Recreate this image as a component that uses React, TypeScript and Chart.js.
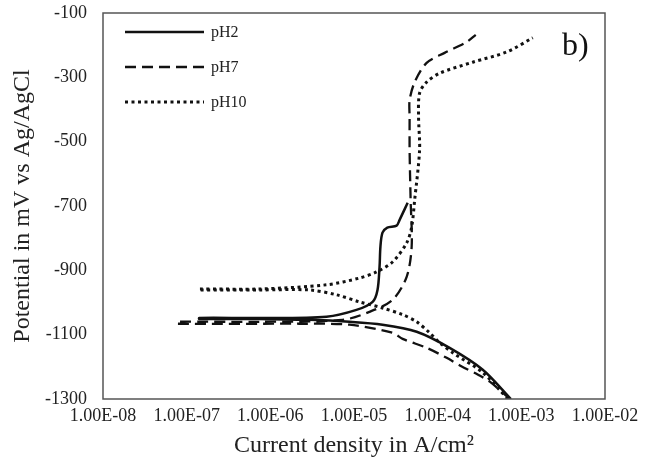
import React, { useEffect, useRef } from "react";
import { Chart, registerables } from "chart.js";

Chart.register(...registerables);

const seriesNames = ["pH2", "pH7", "pH10"];
const xTickValues = [1e-8, 1e-7, 1e-6, 1e-5, 1e-4, 1e-3, 1e-2];
const yMin = -1300;
const yMax = -100;
const yStep = 200;
const panelLabel = "b)";
const xTitle = "Current density in A/cm²";
const yTitle = "Potential in mV vs Ag/AgCl";

// pH2 (solid): cathodic branch (from -1300 up to Ecorr), then anodic branch
const pH2Current = [
  7.5e-4, 3.46e-4, 1.39e-4, 5.61e-5, 2.19e-5, 8.83e-6, 2.93e-6, 7.4e-7, 1.41e-7,
  1.41e-7, 7.4e-7, 4.69e-6, 1.07e-5, 1.67e-5, 1.91e-5, 2.02e-5, 2.07e-5, 2.19e-5,
  2.5e-5, 3.23e-5, 3.51e-5, 4.38e-5,
];
const pH2Potential = [
  -1300, -1209, -1141, -1091, -1069, -1060, -1054, -1051, -1051,
  -1048, -1048, -1044, -1023, -998, -961, -889, -826, -783,
  -767, -761, -743, -690,
];

// pH7 (dashed)
const pH7Current = [
  7.28e-4, 4.2e-4, 3.01e-4, 1.94e-4, 1.28e-4, 7.38e-5, 3.81e-5, 2.89e-5, 8.83e-6,
  2.22e-6, 7.7e-8,
  7.7e-8, 7.4e-7, 7.28e-6, 1.53e-5, 2.89e-5, 4.26e-5, 4.89e-5, 4.75e-5, 4.62e-5,
  4.62e-5, 4.62e-5, 5.31e-5, 7.38e-5, 1.21e-4, 2.22e-4, 2.85e-4,
];
const pH7Potential = [
  -1300, -1246, -1224, -1199, -1172, -1141, -1113, -1094, -1069,
  -1066, -1066,
  -1060, -1060, -1054, -1029, -992, -920, -826, -681, -526,
  -423, -371, -315, -255, -224, -190, -168,
];

// pH10 (dotted)
const pH10Current = [
  6.9e-4, 3.46e-4, 1.51e-4, 1.06e-4, 8.0e-5, 5.61e-5, 3.81e-5, 2.19e-5, 1.16e-5,
  6.17e-6, 2.93e-6, 7.4e-7, 1.41e-7,
  1.41e-7, 7.4e-7, 4.69e-6, 1.16e-5, 1.86e-5, 2.89e-5, 4.26e-5, 4.89e-5, 5.31e-5,
  6.08e-5, 5.91e-5, 6.08e-5, 7.38e-5, 1.06e-4, 2.62e-4, 6.7e-4, 1.37e-3,
];
const pH10Potential = [
  -1300, -1218, -1156, -1125, -1094, -1060, -1038, -1017, -998,
  -976, -961, -961, -961,
  -958, -958, -945, -924, -905, -874, -815, -765, -681,
  -526, -423, -349, -315, -287, -253, -221, -177,
];

const toPoints = (xs: number[], ys: number[]) => xs.map((x, i) => ({ x, y: ys[i] }));

const fmtSci = (v: number) => {
  const [m, e] = v.toExponential(2).split("e");
  const n = parseInt(e, 10);
  const sign = n < 0 ? "-" : "+";
  const abs = Math.abs(n);
  return `${m}E${sign}${abs < 10 ? "0" + abs : abs}`;
};

const SERIF = '"Liberation Serif", "Times New Roman", serif';

const overlayPlugin = {
  id: "overlay",
  afterDraw(chart: any) {
    const { ctx, chartArea: a } = chart;
    ctx.save();
    // plot border
    ctx.setLineDash([]);
    ctx.strokeStyle = "#555";
    ctx.lineWidth = 1.5;
    ctx.strokeRect(a.left, a.top, a.right - a.left, a.bottom - a.top);
    // legend
    chart.data.datasets.forEach((ds: any, i: number) => {
      const y = a.top + 19 + i * 35;
      ctx.beginPath();
      ctx.setLineDash(ds.borderDash || []);
      ctx.lineWidth = ds.borderWidth;
      ctx.strokeStyle = ds.borderColor;
      ctx.moveTo(a.left + 22, y);
      ctx.lineTo(a.left + 101, y);
      ctx.stroke();
      ctx.setLineDash([]);
      ctx.fillStyle = "#222";
      ctx.font = `16px ${SERIF}`;
      ctx.textBaseline = "middle";
      ctx.textAlign = "left";
      ctx.fillText(ds.label, a.left + 108, y + 1);
    });
    ctx.fillStyle = "#111";
    ctx.font = `32px ${SERIF}`;
    ctx.textBaseline = "alphabetic";
    ctx.fillText(panelLabel, a.right - 43, a.top + 42);
    ctx.restore();
  },
};

export default function App() {
  const canvasRef = useRef<HTMLCanvasElement | null>(null);

  useEffect(() => {
    if (!canvasRef.current) return;
    const chart = new Chart(canvasRef.current, {
      type: "line",
      data: {
        datasets: [
          {
            label: seriesNames[0],
            data: toPoints(pH2Current, pH2Potential),
            borderColor: "#111",
            borderWidth: 2.5,
            borderDash: [],
            pointRadius: 0,
            tension: 0.3,
            fill: false,
          },
          {
            label: seriesNames[1],
            data: toPoints(pH7Current, pH7Potential),
            borderColor: "#111",
            borderWidth: 2.3,
            borderDash: [11, 6],
            pointRadius: 0,
            tension: 0.3,
            fill: false,
          },
          {
            label: seriesNames[2],
            data: toPoints(pH10Current, pH10Potential),
            borderColor: "#111",
            borderWidth: 3,
            borderDash: [3, 3.5],
            pointRadius: 0,
            tension: 0.3,
            fill: false,
          },
        ],
      },
      options: {
        animation: false,
        responsive: true,
        maintainAspectRatio: false,
        layout: { padding: { top: 13, right: 43, left: 0, bottom: 0 } },
        plugins: {
          legend: { display: false },
          tooltip: { enabled: false },
        },
        scales: {
          x: {
            type: "logarithmic",
            min: xTickValues[0],
            max: xTickValues[xTickValues.length - 1],
            afterBuildTicks: (scale: any) => {
              scale.ticks = xTickValues.map((v) => ({ value: v }));
            },
            afterFit: (scale: any) => {
              scale.height = 62;
              scale.paddingLeft = 0;
              scale.paddingRight = 0;
            },
            grid: { display: false, drawTicks: false },
            border: { display: false },
            ticks: {
              autoSkip: false,
              maxRotation: 0,
              padding: 6,
              color: "#222",
              font: { family: SERIF, size: 18 },
              callback: (v: any) => fmtSci(Number(v)),
            },
            title: {
              display: true,
              text: xTitle,
              color: "#222",
              font: { family: SERIF, size: 24 },
              padding: { top: 0, bottom: 1 },
            },
          },
          y: {
            type: "linear",
            min: yMin,
            max: yMax,
            ticks: {
              stepSize: yStep,
              padding: 16,
              color: "#222",
              font: { family: SERIF, size: 18 },
              callback: (v: any) => String(Math.round(Number(v))),
            },
            afterFit: (scale: any) => {
              scale.width = 103;
              scale.paddingTop = 0;
              scale.paddingBottom = 0;
            },
            grid: { display: false, drawTicks: false },
            border: { display: false },
            title: {
              display: true,
              text: yTitle,
              color: "#222",
              font: { family: SERIF, size: 24 },
              padding: { top: 8, bottom: 0 },
            },
          },
        },
      },
      plugins: [overlayPlugin],
    } as any);
    return () => chart.destroy();
  }, []);

  return (
    <div style={{ position: "fixed", left: 0, top: 0, width: 648, height: 461, background: "#fff" }}>
      <canvas ref={canvasRef} />
    </div>
  );
}
